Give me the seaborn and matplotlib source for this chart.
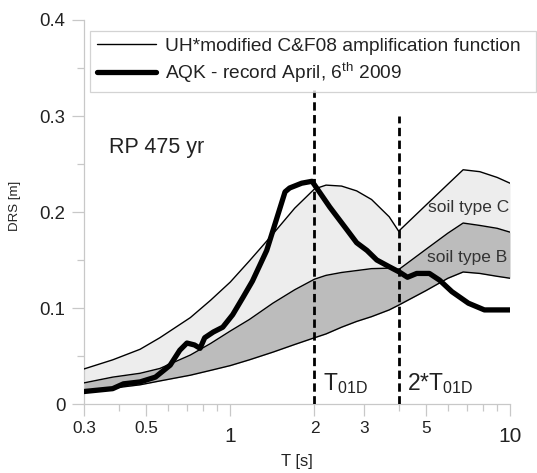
import matplotlib
matplotlib.use("Agg")
import matplotlib.pyplot as plt
import seaborn as sns
import numpy as np
from matplotlib.ticker import NullFormatter

# ---------------- data ----------------
T_env = [0.3, 0.38, 0.476, 0.56, 0.72, 0.85, 1.0, 1.17, 1.42, 1.7, 2.0, 2.2, 2.5,
         2.83, 3.2, 3.7, 4.0, 5.0, 6.0, 6.8, 7.8, 9.0, 10.0]
soilC_upper = [0.0365, 0.046, 0.057, 0.069, 0.090, 0.108, 0.127, 0.149, 0.177, 0.204,
               0.224, 0.228, 0.227, 0.222, 0.213, 0.195, 0.180, 0.207, 0.229, 0.244,
               0.242, 0.236, 0.230]
soilB_upper = [0.022, 0.028, 0.032, 0.037, 0.051, 0.063, 0.076, 0.088, 0.105, 0.119,
               0.130, 0.134, 0.137, 0.139, 0.141, 0.1415, 0.140, 0.161, 0.178, 0.1885,
               0.186, 0.183, 0.179]
soilB_lower = [0.0135, 0.0165, 0.020, 0.024, 0.030, 0.035, 0.040, 0.046, 0.054, 0.062,
               0.069, 0.073, 0.080, 0.086, 0.091, 0.098, 0.103, 0.118, 0.131, 0.1375,
               0.136, 0.133, 0.131]

T_aqk = [0.3, 0.38, 0.415, 0.476, 0.54, 0.61, 0.66, 0.70, 0.745, 0.78, 0.81, 0.87, 0.94,
         1.02, 1.11, 1.2, 1.35, 1.57, 1.63, 1.80, 1.96, 2.27, 2.62, 2.83, 3.08, 3.34,
         3.7, 4.02, 4.3, 4.64, 5.15, 5.6, 6.2, 7.1, 8.1, 10.0]
drs_aqk = [0.013, 0.016, 0.021, 0.023, 0.028, 0.0405, 0.056, 0.0635, 0.0615, 0.058,
           0.069, 0.075, 0.080, 0.093, 0.111, 0.128, 0.160, 0.221, 0.225, 0.230, 0.232,
           0.205, 0.181, 0.168, 0.160, 0.150, 0.143, 0.1375, 0.132, 0.136, 0.136, 0.129,
           0.117, 0.105, 0.098, 0.098]

vline_T = [2.0, 4.0]
vline_top = [0.327, 0.30]

xtick_vals = [0.3, 0.5, 1, 2, 3, 5, 10]
xtick_labels = ["0.3", "0.5", "1", "2", "3", "5", "10"]
xminor_vals = [0.4, 0.6, 0.7, 0.8, 0.9, 4, 6, 7, 8, 9]
ytick_vals = [0, 0.1, 0.2, 0.3, 0.4]
ytick_labels = ["0", "0.1", "0.2", "0.3", "0.4"]
yminor_vals = [0.05, 0.15, 0.25, 0.35]

legend_labels = ["UH*modified C&F08 amplification function",
                 r"AQK - record April, 6$^{\mathregular{th}}$ 2009"]

# ---------------- style ----------------
sns.set_style("white")
plt.rcParams["font.family"] = ["Liberation Sans", "DejaVu Sans"]
plt.rcParams["mathtext.fontset"] = "custom"
plt.rcParams["mathtext.rm"] = "Liberation Sans"
plt.rcParams["mathtext.it"] = "Liberation Sans:italic"
plt.rcParams["mathtext.bf"] = "Liberation Sans:bold"

W, H = 537, 473
fig = plt.figure(figsize=(W / 100, H / 100), dpi=100)
ax = fig.add_axes([84 / W, 1 - 404 / H, 426 / W, 384 / H])

ax.set_xscale("log")
ax.set_xlim(0.3, 10)
ax.set_ylim(0, 0.4)

# bands
ax.fill_between(T_env, soilB_upper, soilC_upper, color="#ededed", lw=0, zorder=1)
ax.fill_between(T_env, soilB_lower, soilB_upper, color="#bcbcbc", lw=0, zorder=1)

sns.lineplot(x=T_env, y=soilC_upper, color="black", lw=1.0, ax=ax, sort=False,
             estimator=None, zorder=3)
sns.lineplot(x=T_env, y=soilB_upper, color="black", lw=1.0, ax=ax, sort=False,
             estimator=None, zorder=3)
sns.lineplot(x=T_env, y=soilB_lower, color="black", lw=1.0, ax=ax, sort=False,
             estimator=None, zorder=3)
sns.lineplot(x=T_aqk, y=drs_aqk, color="black", lw=3.8, ax=ax, sort=False,
             estimator=None, zorder=5)
thin_line = ax.lines[0]
thick_line = ax.lines[3]
thick_line.set_solid_joinstyle("round")

ax.vlines(vline_T, 0, vline_top, colors="black", lw=2.0,
          linestyles=[(0, (3, 1.6))], zorder=6)

# text annotations
ax.text(0.37, 0.267, "RP 475 yr", fontsize=15.5, va="center", ha="left", color="#222222")
ax.text(5.1, 0.205, "soil type C", fontsize=12.5, va="center", ha="left", color="#333333", zorder=7)
ax.text(5.05, 0.153, "soil type B", fontsize=12.5, va="center", ha="left", color="#333333", zorder=7)
ax.text(2.14, 0.0146, r"$\mathregular{T_{01D}}$", fontsize=16.5, va="baseline", ha="left",
        color="#222222")
ax.text(4.28, 0.0146, r"$\mathregular{2{*}T_{01D}}$", fontsize=16.5, va="baseline",
        ha="left", color="#222222")

# axes / ticks
for s in ["top", "right"]:
    ax.spines[s].set_visible(False)
for s in ["left", "bottom"]:
    ax.spines[s].set_color("#c8c8c8")
    ax.spines[s].set_linewidth(0.9)

ax.set_xticks(xtick_vals)
ax.set_xticklabels(xtick_labels)
ax.set_xticks(xminor_vals, minor=True)
ax.xaxis.set_minor_formatter(NullFormatter())
ax.set_yticks(ytick_vals)
ax.set_yticklabels(ytick_labels)
ax.set_yticks(yminor_vals, minor=True)

ax.tick_params(axis="both", which="both", bottom=True, left=True, top=False, right=False)
ax.tick_params(axis="both", which="major", direction="out", length=8.5, width=0.9,
               color="#c8c8c8", labelcolor="#222222")
ax.tick_params(axis="both", which="minor", direction="out", length=5, width=0.9,
               color="#c8c8c8")
ax.tick_params(axis="y", which="major", labelsize=13.4, pad=5)
ax.tick_params(axis="x", which="major", labelsize=12.4, pad=4)

xt = ax.xaxis.get_major_ticks()
for i, lab in enumerate(xtick_labels):
    if lab in ("1", "10"):
        xt[i].label1.set_fontsize(15)
        xt[i].set_pad(8)

ax.set_xlabel("T [s]", fontsize=12, color="#222222")
ax.xaxis.set_label_coords(0.5, -0.13)
ax.xaxis.label.set_va("top")
ax.set_ylabel("DRS [m]", fontsize=9.5, color="#222222")
ax.yaxis.set_label_coords(-0.148, 0.517)

# legend
leg = fig.legend([thin_line, thick_line], legend_labels,
                 loc="upper left",
                 bbox_to_anchor=(90 / W, 1 - 89 / H, 446 / W, 58 / H),
                 mode="expand", borderaxespad=0, frameon=True, fancybox=False,
                 edgecolor="#c8c8c8", handlelength=3.1, handletextpad=0.45,
                 labelspacing=0.3, borderpad=0.35, fontsize=13.8)
leg.get_frame().set_linewidth(0.9)
for t in leg.get_texts():
    t.set_color("#222222")

fig.savefig("out.png", dpi=100)
